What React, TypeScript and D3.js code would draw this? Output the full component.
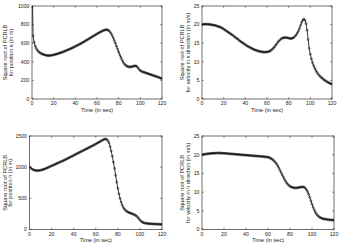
import React from 'react';
import * as d3 from 'd3';

// time in seconds, one sample per second
const time = d3.range(0, 121);

const posX = [
  1300, 680, 610, 568, 542, 524, 510, 500, 492, 486,
  482, 477, 473, 470, 468, 467, 467, 468, 470, 472,
  475, 478, 481, 484, 488, 492, 496, 500, 504, 508,
  513, 518, 523, 528, 533, 538, 543, 548, 554, 560,
  566, 572, 578, 584, 590, 596, 602, 609, 616, 623,
  630, 637, 644, 651, 658, 665, 672, 679, 686, 693,
  700, 707, 714, 720, 726, 732, 737, 741, 744, 745,
  742, 735, 722, 705, 683, 658, 630, 600, 568, 536,
  505, 476, 448, 423, 400, 382, 368, 358, 351, 347,
  345, 345, 347, 350, 354, 357, 356, 348, 333, 317,
  305, 298, 293, 289, 285, 281, 277, 273, 269, 265,
  261, 257, 253, 249, 245, 241, 237, 233, 228, 223,
  218,
];

const velX = [
  20.0, 20.1, 20.1, 20.1, 20.1, 20.1, 20.1, 20.05, 20.0, 19.95,
  19.9, 19.85, 19.8, 19.7, 19.6, 19.5, 19.4, 19.3, 19.15, 19.0,
  18.8, 18.6, 18.4, 18.2, 18.0, 17.8, 17.6, 17.4, 17.2, 17.0,
  16.75, 16.5, 16.3, 16.1, 15.85, 15.6, 15.4, 15.2, 15.0, 14.8,
  14.6, 14.4, 14.2, 14.05, 13.9, 13.75, 13.6, 13.45, 13.3, 13.2,
  13.1, 13.0, 12.9, 12.8, 12.75, 12.7, 12.65, 12.6, 12.6, 12.6,
  12.65, 12.7, 12.8, 12.95, 13.15, 13.4, 13.7, 14.05, 14.45, 14.85,
  15.25, 15.6, 15.9, 16.15, 16.35, 16.45, 16.5, 16.5, 16.5, 16.45,
  16.35, 16.3, 16.25, 16.3, 16.4, 16.6, 16.9, 17.25, 17.7, 18.3,
  19.0, 19.8, 20.6, 21.2, 21.5, 21.2, 20.3, 18.5, 16.0, 13.6,
  12.0, 10.8, 9.8, 9.0, 8.3, 7.7, 7.2, 6.8, 6.4, 6.1,
  5.8, 5.6, 5.3, 5.1, 4.9, 4.7, 4.5, 4.4, 4.2, 4.1,
  4.0,
];

const posH = [
  1005, 990, 975, 963, 955, 950, 947, 946, 946, 948,
  952, 956, 961, 967, 974, 981, 989, 997, 1005, 1013,
  1021, 1029, 1037, 1045, 1053, 1061, 1069, 1077, 1085, 1093,
  1101, 1109, 1117, 1126, 1135, 1144, 1153, 1162, 1171, 1180,
  1189, 1199, 1208, 1217, 1226, 1235, 1244, 1253, 1262, 1271,
  1280, 1289, 1298, 1307, 1316, 1325, 1334, 1343, 1352, 1362,
  1372, 1382, 1392, 1402, 1412, 1422, 1432, 1442, 1450, 1452,
  1445, 1425, 1390, 1330, 1260, 1175, 1080, 980, 870, 760,
  660, 575, 500, 440, 392, 355, 328, 308, 294, 283,
  274, 267, 260, 253, 246, 238, 228, 215, 198, 176,
  154, 135, 122, 113, 107, 103, 100, 98, 96, 94,
  93, 92, 91, 90, 89, 88, 87, 86, 85, 84,
  83,
];

const velH = [
  20.0, 20.05, 20.1, 20.15, 20.2, 20.25, 20.3, 20.3, 20.35, 20.35,
  20.4, 20.4, 20.4, 20.45, 20.45, 20.45, 20.45, 20.45, 20.4, 20.4,
  20.4, 20.35, 20.35, 20.3, 20.3, 20.25, 20.25, 20.2, 20.2, 20.15,
  20.15, 20.1, 20.1, 20.05, 20.05, 20.0, 20.0, 19.95, 19.95, 19.9,
  19.9, 19.85, 19.85, 19.8, 19.8, 19.75, 19.75, 19.7, 19.7, 19.65,
  19.65, 19.6, 19.6, 19.55, 19.55, 19.5, 19.5, 19.45, 19.4, 19.4,
  19.35, 19.25, 19.1, 18.95, 18.75, 18.5, 18.2, 17.85, 17.45, 16.95,
  16.4, 15.8, 15.2, 14.6, 14.0, 13.4, 12.9, 12.45, 12.1, 11.8,
  11.55, 11.4, 11.3, 11.2, 11.15, 11.15, 11.15, 11.2, 11.25, 11.3,
  11.35, 11.4, 11.4, 11.3, 11.05, 10.65, 10.1, 9.4, 8.6, 7.7,
  6.8, 6.0, 5.3, 4.7, 4.2, 3.8, 3.5, 3.3, 3.15, 3.0,
  2.9, 2.85, 2.8, 2.75, 2.7, 2.65, 2.6, 2.6, 2.55, 2.55,
  2.5,
];

const xTicks = [0, 20, 40, 60, 80, 100, 120];
const posXTicks = [0, 200, 400, 600, 800, 1000];
const velTicks = [0, 5, 10, 15, 20, 25];
const posHTicks = [0, 500, 1000, 1500];

const xLabel = 'Time (in sec)';
const yLabelTop = 'Square root of PCRLB';

const FONT = '"Liberation Sans", Arial, Helvetica, sans-serif';

interface PanelProps {
  id: string;
  values: number[];
  yMax: number;
  yTicks: number[];
  label2: string;
  box: { left: number; top: number; right: number; bottom: number };
  labelX: [number, number];
}

const Panel: React.FC<PanelProps> = ({ id, values, yMax, yTicks, label2, box, labelX }) => {
  const { left, top, right, bottom } = box;
  const x = d3.scaleLinear().domain([0, 120]).range([left, right]);
  const y = d3.scaleLinear().domain([0, yMax]).range([bottom, top]);
  const pts = time.map((t, i) => [t, values[i]] as [number, number]);
  const line = d3.line<[number, number]>()
    .x(d => x(d[0]))
    .y(d => y(d[1]));
  const tl = 1.8;
  const midY = (top + bottom) / 2;

  return (
    <g>
      <clipPath id={`clip-${id}`}>
        <rect x={left} y={top} width={right - left} height={bottom - top} />
      </clipPath>
      <rect x={left} y={top} width={right - left} height={bottom - top} fill="#fff" stroke="#333" strokeWidth={0.7} />
      {xTicks.map(t => (
        <g key={`x${t}`}>
          <line x1={x(t)} x2={x(t)} y1={bottom} y2={bottom - tl} stroke="#333" strokeWidth={0.6} />
          <line x1={x(t)} x2={x(t)} y1={top} y2={top + tl} stroke="#333" strokeWidth={0.6} />
          <text x={x(t)} y={bottom + 6} fontSize={5.2} textAnchor="middle" fill="#222" fontFamily={FONT}>{t}</text>
        </g>
      ))}
      {yTicks.map(v => (
        <g key={`y${v}`}>
          <line x1={left} x2={left + tl} y1={y(v)} y2={y(v)} stroke="#333" strokeWidth={0.6} />
          <line x1={right} x2={right - tl} y1={y(v)} y2={y(v)} stroke="#333" strokeWidth={0.6} />
          <text x={left - 2.5} y={y(v) + 1.8} fontSize={5.2} textAnchor="end" fill="#222" fontFamily={FONT}>{v}</text>
        </g>
      ))}
      <text x={(left + right) / 2} y={bottom + 12.5} fontSize={5.6} textAnchor="middle" fill="#222" fontFamily={FONT}>{xLabel}</text>
      <text transform={`translate(${labelX[0]},${midY}) rotate(-90)`} fontSize={5.6} textAnchor="middle" dominantBaseline="central" fill="#222" fontFamily={FONT}>{yLabelTop}</text>
      <text transform={`translate(${labelX[1]},${midY}) rotate(-90)`} fontSize={5.6} textAnchor="middle" dominantBaseline="central" fill="#222" fontFamily={FONT}>{label2}</text>
      <g clipPath={`url(#clip-${id})`}>
        <path d={line(pts) || ''} fill="none" stroke="#000" strokeWidth={0.8} />
        {pts.map((p, i) => (
          <circle key={i} cx={x(p[0])} cy={y(p[1])} r={1.0} fill="none" stroke="#000" strokeWidth={0.5} />
        ))}
      </g>
    </g>
  );
};

export default function App() {
  return (
    <svg width={341} height={246} style={{ position: 'absolute', left: 0, top: 0, background: '#fff' }}>
      <rect width={341} height={246} fill="#fff" />
      <Panel id="px" values={posX} yMax={1000} yTicks={posXTicks}
        label2="for position x (in m)" box={{ left: 32, top: 6, right: 162, bottom: 99 }} labelX={[5, 10.5]} />
      <Panel id="vx" values={velX} yMax={25} yTicks={velTicks}
        label2="for velocity in x direction (in m/s)" box={{ left: 202, top: 6, right: 332, bottom: 99 }} labelX={[182, 187.5]} />
      <Panel id="ph" values={posH} yMax={1500} yTicks={posHTicks}
        label2="for position h (in m)" box={{ left: 29.5, top: 136, right: 162, bottom: 229.6 }} labelX={[4.7, 10]} />
      <Panel id="vh" values={velH} yMax={25} yTicks={velTicks}
        label2="for velocity in h direction (in m/s)" box={{ left: 202, top: 136, right: 334, bottom: 229.6 }} labelX={[182, 187.5]} />
    </svg>
  );
}
